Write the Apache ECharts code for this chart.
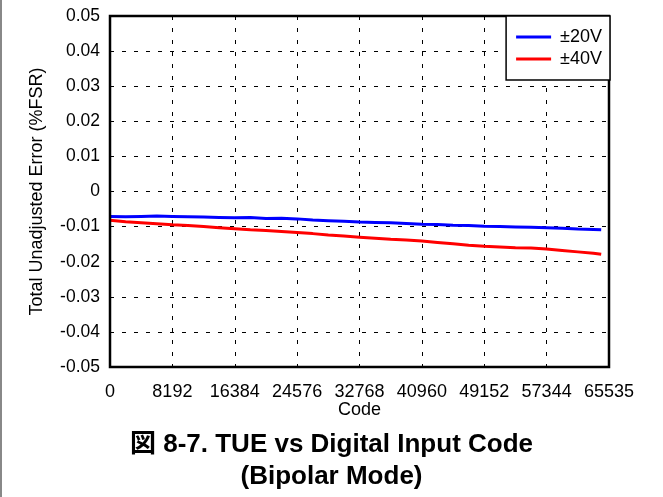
<!DOCTYPE html>
<html>
<head>
<meta charset="utf-8">
<script src="https://cdn.jsdelivr.net/npm/echarts@6/dist/echarts.min.js"></script>
<style>html,body{margin:0;padding:0;background:#fff;}#c{width:663px;height:497px;}</style>
</head>
<body>
<div id="c"></div>
<script>
const codes = [0,2048,4096,6144,8192,10240,12288,14336,16384,18432,20480,22528,24576,26624,28672,30720,32768,34816,36864,38912,40960,43008,45056,47104,49152,51200,53248,55296,57344,59392,61440,63488,64512];
const tue20 = [-0.0071,-0.0072,-0.0071,-0.0070,-0.0071,-0.0072,-0.0073,-0.0074,-0.0075,-0.0074,-0.0077,-0.0076,-0.0078,-0.0081,-0.0083,-0.0085,-0.0087,-0.0088,-0.0089,-0.0091,-0.0093,-0.0094,-0.0096,-0.0097,-0.0099,-0.0100,-0.0101,-0.0102,-0.0103,-0.0105,-0.0107,-0.0108,-0.0109];
const tue40 = [-0.0082,-0.0086,-0.0089,-0.0092,-0.0095,-0.0097,-0.0100,-0.0103,-0.0106,-0.0109,-0.0111,-0.0114,-0.0117,-0.0120,-0.0124,-0.0127,-0.0130,-0.0133,-0.0136,-0.0138,-0.0141,-0.0145,-0.0149,-0.0153,-0.0156,-0.0158,-0.0160,-0.0161,-0.0164,-0.0168,-0.0172,-0.0176,-0.0179];
const seriesNames = ['±20V','±40V'];
const xTickLabels = ['0','8192','16384','24576','32768','40960','49152','57344','65535'];
const titleText = '図 8-7. TUE vs Digital Input Code\n(Bipolar Mode)';

const font = '"Liberation Sans", Arial, "Noto Sans CJK JP", sans-serif';
const chart = echarts.init(document.getElementById('c'));
chart.setOption({
  animation: false,
  backgroundColor: '#fff',
  textStyle: { fontFamily: font },
  title: {
    text: titleText,
    left: 'center',
    top: 424,
    textStyle: { fontFamily: font, fontSize: 26, fontWeight: 'bold', color: '#000', lineHeight: 32 }
  },
  graphic: [{
    type: 'line', shape: { x1: 1, y1: 0, x2: 1, y2: 497 },
    style: { stroke: '#888', lineWidth: 2 }
  }],
  grid: { left: 110, right: 54, top: 16, bottom: 130, show: true, borderColor: '#000', borderWidth: 2.5, z: 3 },
  legend: {
    right: 53, top: 16, orient: 'vertical',
    backgroundColor: '#fff', borderColor: '#000', borderWidth: 1.5,
    padding: [12, 8, 12, 10], itemGap: 4,
    icon: 'rect', itemWidth: 35, itemHeight: 3,
    textStyle: { fontFamily: font, fontSize: 18, color: '#000', lineHeight: 17, padding: [0, 0, 0, 4] },
    data: seriesNames
  },
  xAxis: {
    type: 'value', min: 0, max: 65536, interval: 8192,
    name: 'Code', nameLocation: 'middle', nameGap: 34, nameMoveOverlap: false,
    nameTextStyle: { fontFamily: font, fontSize: 18, color: '#000' },
    axisLine: { show: false }, axisTick: { show: false },
    axisLabel: { fontFamily: font, fontSize: 18, color: '#000', margin: 16,
      formatter: v => xTickLabels[Math.round(v / 8192)] },
    splitLine: { show: true, lineStyle: { color: '#000', type: [4, 8], width: 1 } }
  },
  yAxis: {
    type: 'value', min: -0.05, max: 0.05, interval: 0.01,
    name: 'Total Unadjusted Error (%FSR)', nameLocation: 'middle', nameGap: 64, nameMoveOverlap: false,
    nameTextStyle: { fontFamily: font, fontSize: 18, color: '#000' },
    axisLine: { show: false }, axisTick: { show: false },
    axisLabel: { fontFamily: font, fontSize: 17.5, color: '#000', margin: 10,
      formatter: v => Math.abs(v) < 1e-9 ? '0' : v.toFixed(2) },
    splitLine: { show: true, lineStyle: { color: '#000', type: [4, 8], width: 1 } }
  },
  series: [
    { name: seriesNames[0], type: 'line', symbol: 'none', data: codes.map((c, i) => [c, tue20[i]]),
      lineStyle: { color: '#0000ff', width: 3 }, itemStyle: { color: '#0000ff' }, z: 2 },
    { name: seriesNames[1], type: 'line', symbol: 'none', data: codes.map((c, i) => [c, tue40[i]]),
      lineStyle: { color: '#ff0000', width: 3 }, itemStyle: { color: '#ff0000' }, z: 2 }
  ]
});
</script>
</body>
</html>
